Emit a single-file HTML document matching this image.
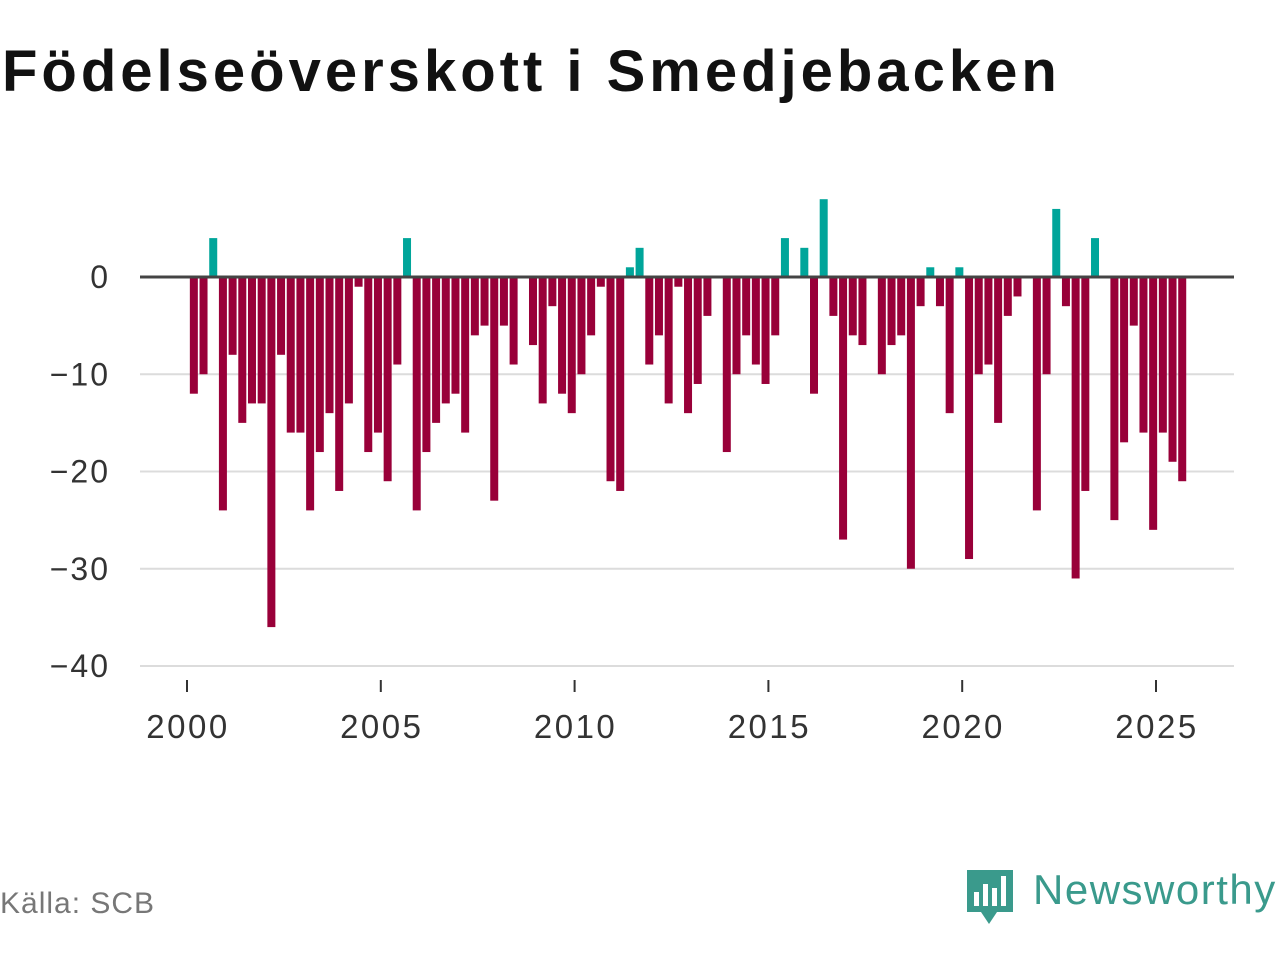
<!DOCTYPE html>
<html><head><meta charset="utf-8"><style>
body{margin:0;background:#fff;font-family:"Liberation Sans",sans-serif;}
#wrap{position:relative;width:1280px;height:960px;overflow:hidden;}
h1{position:absolute;left:2px;top:38px;margin:0;font-size:58px;font-weight:bold;color:#111;letter-spacing:4px;}
#src{position:absolute;left:0;top:887px;font-size:30px;color:#777;letter-spacing:1px;}
#logo{position:absolute;left:965px;top:866px;}
</style></head><body><div id="wrap">
<h1>Födelseöverskott i Smedjebacken</h1>
<svg id="chart" width="1280" height="960" style="position:absolute;left:0;top:0"></svg>
<div id="src">Källa: SCB</div>
<svg id="logo" width="315" height="62">
<path d="M2 4 h46 v42 h-16 l-8 12 l-8-12 h-14z" fill="#3a9a8c"/>
<rect x="9" y="26" width="5" height="14" fill="#fff"/><rect x="18" y="18" width="5" height="22" fill="#fff"/><rect x="27" y="22" width="5" height="18" fill="#fff"/><rect x="36" y="10" width="5" height="30" fill="#fff"/>
<text x="68" y="38" font-family="Liberation Sans,sans-serif" font-size="42" letter-spacing="1.5" fill="#3a9a8c">Newsworthy</text>
</svg>
</div>
<script>
const startYear = 2000;
const values = [-12,-10,4,-24, -8,-15,-13,-13, -36,-8,-16,-16, -24,-18,-14,-22, -13,-1,-18,-16, -21,-9,4,-24, -18,-15,-13,-12, -16,-6,-5,-23, -5,-9,0,-7, -13,-3,-12,-14, -10,-6,-1,-21, -22,1,3,-9, -6,-13,-1,-14, -11,-4,0,-18, -10,-6,-9,-11, -6,4,0,3, -12,8,-4,-27, -6,-7,0,-10, -7,-6,-30,-3, 1,-3,-14,1, -29,-10,-9,-15, -4,-2,0,-24, -10,7,-3,-31, -22,4,0,-25, -17,-5,-16,-26, -16,-19,-21];
const yTicks = [0,-10,-20,-30,-40];
const xTicks = [2000,2005,2010,2015,2020,2025];
const NS='http://www.w3.org/2000/svg';
const svg=document.getElementById('chart');
const x=t=>187+(t-2000)*38.76;
const y=v=>277-v*9.725;
function mk(tag,at){const e=document.createElementNS(NS,tag);for(const k in at)e.setAttribute(k,at[k]);svg.appendChild(e);return e;}
yTicks.forEach(v=>{
  if(v!==0){const g=mk('line',{x1:140,x2:1234,y1:y(v),y2:y(v),stroke:'#dcdcdc','stroke-width':2});
  
  }
  const t=mk('text',{x:110,y:y(v)+11,'text-anchor':'end','font-size':32,'letter-spacing':2,fill:'#333','font-family':'Liberation Sans,sans-serif'});
  t.textContent=v<0?'\u2212'+(-v):String(v);
  
  
});
xTicks.forEach(v=>{
  const l=mk('line',{x1:x(v),x2:x(v),y1:680,y2:692,stroke:'#333','stroke-width':2});
  
  
  const t=mk('text',{x:x(v)+1,y:738,'text-anchor':'middle','font-size':33,'letter-spacing':2.5,fill:'#333','font-family':'Liberation Sans,sans-serif'});
  t.textContent=v;
  
  
});
values.forEach((v,i)=>{
  const cx=x(startYear+(i+0.5)/4)+2;
  const top=Math.min(y(v),y(0)), h=Math.abs(y(v)-y(0));
  const r=mk('rect',{x:cx-4,y:top,width:8,height:h,fill:v>0?'#00a59a':'#990039'});
  
  
});
const z=mk('line',{x1:140,x2:1234,y1:y(0),y2:y(0),stroke:'#444','stroke-width':3});


</script></body></html>
